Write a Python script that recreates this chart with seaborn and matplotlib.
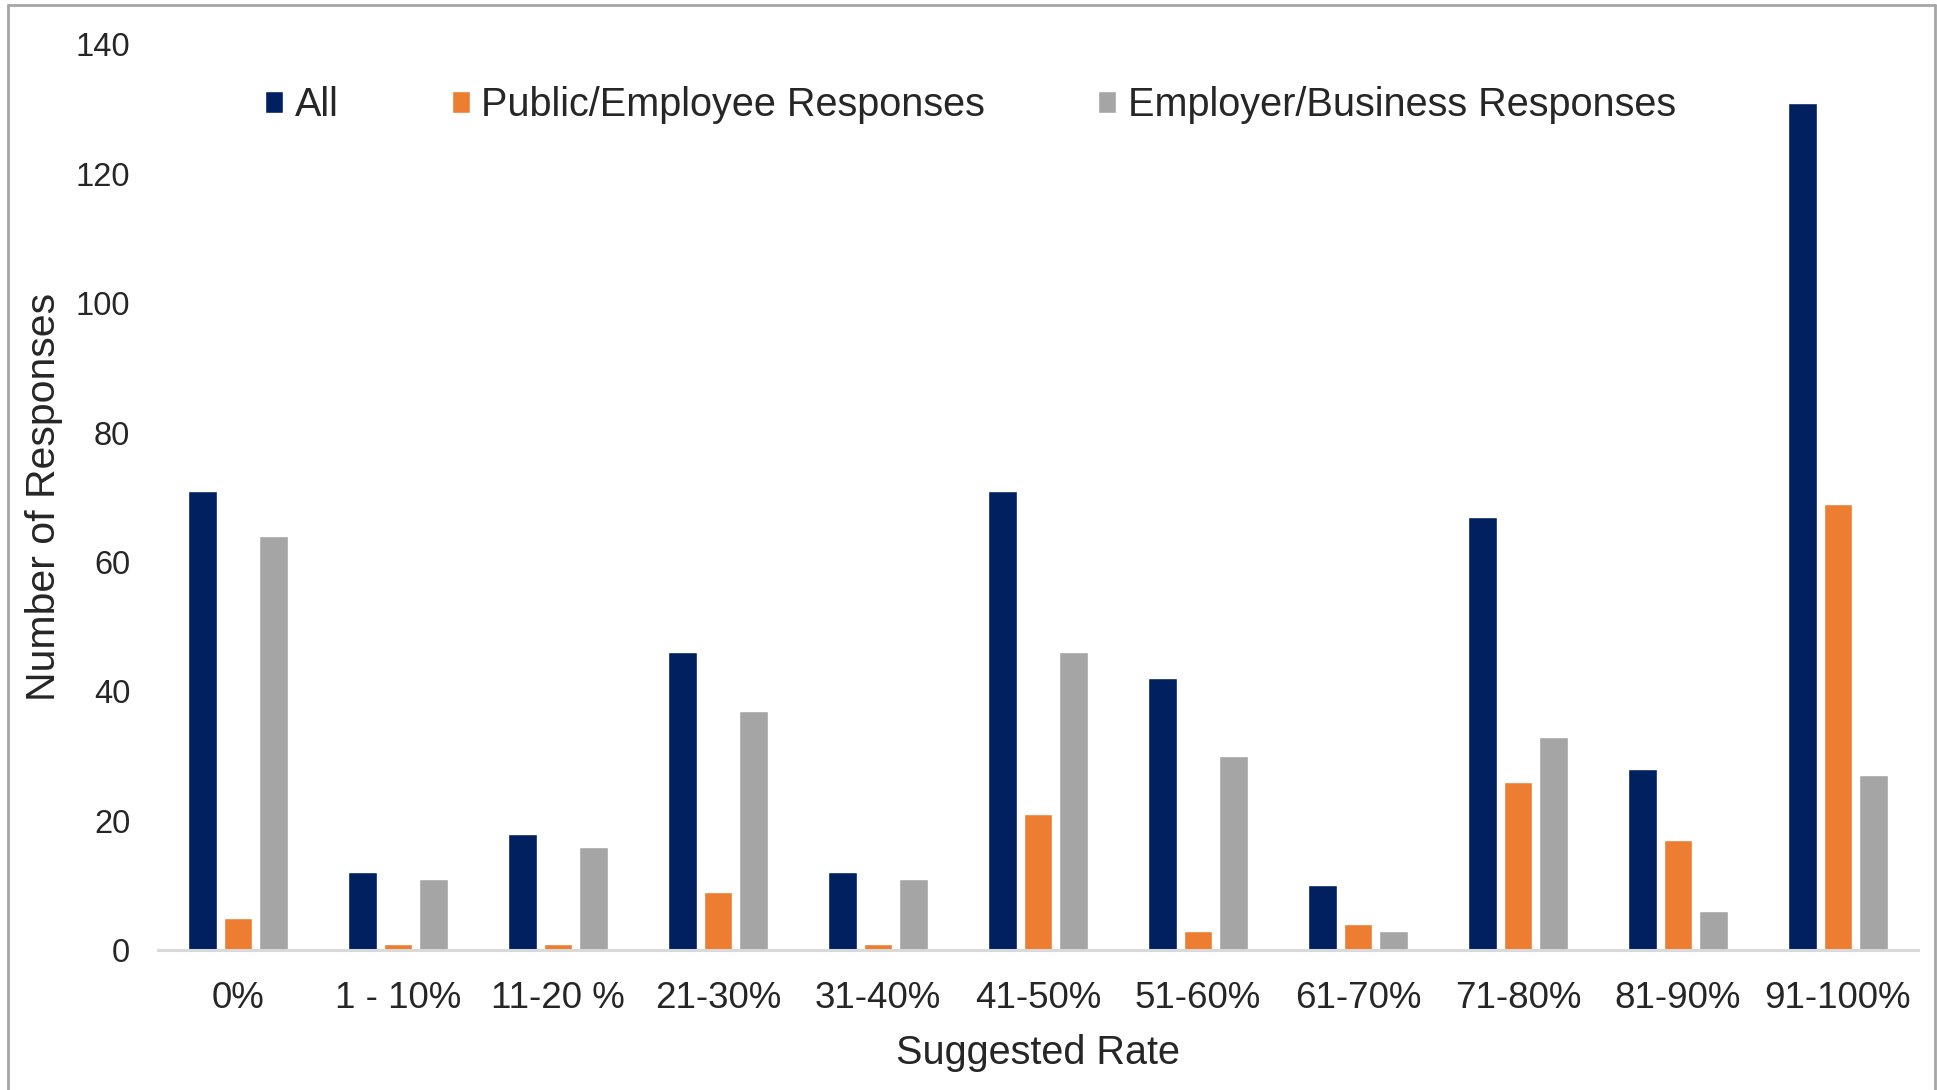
import pandas as pd
import matplotlib.pyplot as plt
import seaborn as sns
from matplotlib.lines import Line2D

# Données
categories = ['0%', '1 - 10%', '11-20 %', '21-30%', '31-40%', '41-50%',
              '51-60%', '61-70%', '71-80%', '81-90%', '91-100%']
series = ['All', 'Public/Employee Responses', 'Employer/Business Responses']
all_values = [71, 12, 18, 46, 12, 71, 42, 10, 67, 28, 131]
public_values = [5, 1, 1, 9, 1, 21, 3, 4, 26, 17, 69]
employer_values = [64, 11, 16, 37, 11, 46, 30, 3, 33, 6, 27]
yticks = [0, 20, 40, 60, 80, 100, 120, 140]

colors = ['#002060', '#ED7D31', '#A5A5A5']

sns.set_style("white")
plt.rcParams['font.family'] = ['Liberation Sans', 'DejaVu Sans']

df = pd.DataFrame({
    'rate': categories * 3,
    'group': [s for s in series for _ in categories],
    'count': all_values + public_values + employer_values,
})

fig = plt.figure(figsize=(19.37, 10.90), dpi=100)
ax = fig.add_axes([158 / 1937, 1 - 950 / 1090, 1760 / 1937, 905.5 / 1090])

sns.barplot(data=df, x='rate', y='count', hue='group', order=categories,
            hue_order=series, palette=colors, width=0.67, gap=0.2,
            saturation=1, ax=ax)

ax.set_xlim(-0.5, len(categories) - 0.5)
ax.set_ylim(0, 140)
ax.set_yticks(yticks)
ax.tick_params(axis='both', length=0)
ax.tick_params(axis='y', labelsize=23.5, pad=20)
ax.tick_params(axis='x', labelsize=26.5, pad=22)
for s in ['left', 'top', 'right']:
    ax.spines[s].set_visible(False)
ax.spines['bottom'].set_color('#D9D9D9')
ax.spines['bottom'].set_linewidth(2.2)

ax.set_xlabel('Suggested Rate', fontsize=28.5, labelpad=13)
ax.set_ylabel('Number of Responses', fontsize=29.5, labelpad=9)

handles, labels = ax.get_legend_handles_labels()
ax.legend(handles, labels, loc='center left', bbox_to_anchor=(0.061, 0.933),
          ncol=3, frameon=False, fontsize=28.5, handlelength=0.45,
          handleheight=0.45, handletextpad=0.3, columnspacing=2.85,
          borderpad=0, borderaxespad=0)

# Cadre gris autour de la figure (sans bord inférieur)
border = dict(color='#A6A6A6', linewidth=2, transform=fig.transFigure)
fig.add_artist(Line2D([8 / 1937, 8 / 1937], [0, 1 - 5 / 1090], **border))
fig.add_artist(Line2D([8 / 1937, 1935 / 1937], [1 - 5 / 1090, 1 - 5 / 1090], **border))
fig.add_artist(Line2D([1935 / 1937, 1935 / 1937], [0, 1 - 5 / 1090], **border))

plt.savefig('out.png', dpi=100)
plt.close()
